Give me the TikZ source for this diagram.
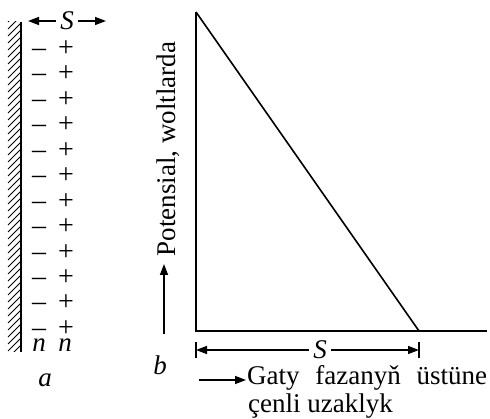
\documentclass[tikz,border=0pt]{standalone}
\usepackage{fontspec}
\setmainfont{Liberation Serif}
\usetikzlibrary{
    arrows.meta,
    positioning,
    calc
}

\begin{document}
\begin{tikzpicture}[
        x=1pt, y=-1pt,
        font=\fontsize{27}{30}\selectfont,
        axis/.style={
            line width=1.6pt
        },
        dim/.style={
            -{Triangle[length=11pt,width=8pt]},
            line width=1.4pt
        },
        tick/.style={
            line width=1.4pt
        },
        charge/.style={
            inner sep=0pt,
            anchor=base,
            font=\fontsize{28}{30}\selectfont
        },
        label/.style={
            inner sep=0pt,
            anchor=base,
            font=\fontsize{27}{30}\selectfont\itshape
        }
    ]
    \useasboundingbox (0,0) rectangle (490,419);

    % wall with hatching
    \begin{scope}
        \clip (7,22) rectangle (21,352);
        \foreach \y in {22,29,...,372}
            \draw[line width=0.8pt] (8,\y) -- (21,\y-13);
    \end{scope}
    \coordinate (walltop) at (21,22);
    \coordinate (wallbot) at (21,352);
    \draw[line width=2.2pt] (walltop) -- (wallbot);

    % double layer
    \foreach \i in {0,...,11} {
        \node[charge] (minus\i) at (39,{56.5+25.45*\i}) {–};
        \node[charge] (plus\i) at (66,{56.5+25.45*\i}) {+};
    }
    \node[label] (nleft) at (39,352) {n};
    \node[label] (nright) at (65,352) {n};

    \node[label, anchor=center, inner sep=4pt] (stop) at (67,21) {S};
    \coordinate (stopl) at (28,21);
    \coordinate (stopr) at (106,21);
    \draw[dim] (stop.west) -- (stopl);
    \draw[dim] (stop.east) -- (stopr);

    \node[label] (lbla) at (45,387) {a};

    % potential curve
    \coordinate (top) at (196,12);
    \coordinate (origin) at (196,331);
    \coordinate (foot) at (419,331);
    \coordinate (far) at (487,331);
    \draw[axis] (top) -- (origin) -- (far);
    \draw[axis] (top) -- (foot);

    \node[rotate=90, inner sep=0pt] (ylabel) at (168.5,149)
        {Potensial, woltlarda};
    \coordinate (yarrow) at (164,334);
    \coordinate (yarrowtip) at (164,264);
    \draw[dim] (yarrow) -- (yarrowtip);

    % distance S
    \coordinate (dl) at (196,350);
    \coordinate (dr) at (419,350);
    \draw[tick] (196,342) -- (196,358);
    \draw[tick] (419,342) -- (419,358);
    \node[label, anchor=center, inner sep=4pt] (sdim) at (320,350) {S};
    \draw[dim] (sdim.west) -- (dl);
    \draw[dim] (sdim.east) -- (dr);

    \node[label] (lblb) at (160,375) {b};

    \node[inner sep=0pt, anchor=base west] (gaty) at (247,385)
        {\makebox[240pt][s]{Gaty fazanyň üstüne}};
    \node[inner sep=0pt, anchor=base west] (cenli) at (248,413)
        {çenli uzaklyk};
    \coordinate (xarrow) at (199,380);
    \draw[dim] (xarrow) -- ($(gaty.base west)+(-1,-5)$);

    \end{tikzpicture}
\end{document}
